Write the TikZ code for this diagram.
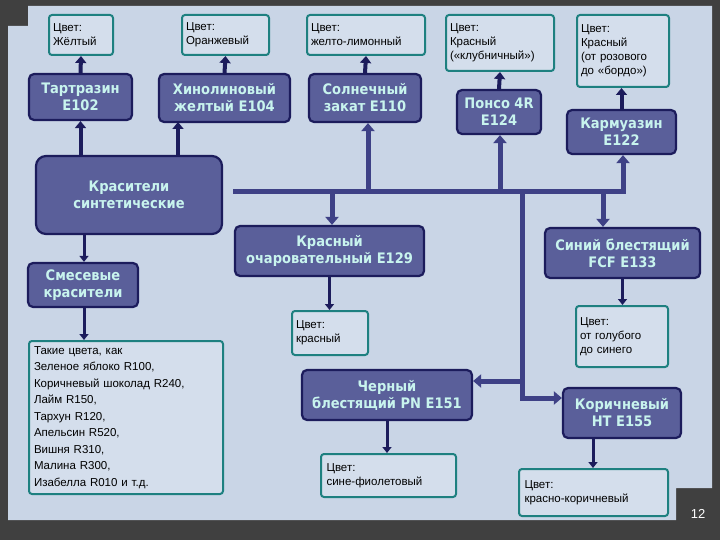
\documentclass[tikz,border=0pt]{standalone}
\usepackage{fontspec}
\setmainfont{Liberation Sans}
\newfontfamily\condf{DejaVu Sans Condensed}
\usetikzlibrary{arrows.meta}
\definecolor{frame}{HTML}{404040}
\definecolor{panel}{HTML}{C9D5E6}
\definecolor{dfill}{HTML}{5A5F9A}
\definecolor{dline}{HTML}{1C1C5C}
\definecolor{ltxt}{HTML}{C8F4EE}
\definecolor{teal}{HTML}{1E8080}
\definecolor{cfill}{HTML}{D4DEEC}
\definecolor{barc}{HTML}{3E4186}
\begin{document}
\begin{tikzpicture}[x=1pt,y=-1pt,
  dark/.style={draw=dline,line width=2.2pt,fill=dfill,rounded corners=5pt,text=ltxt,font=\condf\bfseries\fontsize{14.5}{17}\selectfont,align=center,inner sep=1pt},
  col/.style={draw=teal,line width=2pt,fill=cfill,rounded corners=3pt,anchor=north west,align=left,font=\fontsize{11.5}{14}\selectfont,inner sep=4pt},
  ar/.style={draw=dline,line width=4pt,-{Triangle[width=11pt,length=7pt]}},
  sar/.style={draw=dline,line width=3pt,-{Triangle[width=9pt,length=6pt]}},
  bus/.style={draw=barc,line width=5pt},
  busar/.style={draw=barc,line width=5pt,-{Triangle[width=13pt,length=8pt]}}]
\fill[frame] (0,0) rectangle (720,540);
\fill[panel] (28,6) -- (712,6) -- (712,488) -- (676,488) -- (676,520) -- (8,520) -- (8,26) -- (28,26) -- cycle;
\node[text=white,font=\fontsize{13}{15}\selectfont] (pg) at (698,514) {12};
% colour boxes
\node[col,minimum width=64pt,minimum height=40pt,text width=56pt] (c1) at (48,14) {Цвет:\\Жёлтый};
\node[col,minimum width=87pt,minimum height=40pt,text width=79pt] (c2) at (181,14) {Цвет:\\Оранжевый};
\node[col,minimum width=118pt,minimum height=40pt,text width=110pt] (c3) at (306,14) {Цвет:\\желто-лимонный};
\node[col,minimum width=108pt,minimum height=56pt,text width=100pt] (c4) at (445,14) {Цвет:\\Красный\\(«клубничный»)};
\node[col,minimum width=92pt,minimum height=72pt,text width=84pt] (c5) at (576,14) {Цвет:\\Красный\\(от розового\\до «бордо»)};
% dark boxes
\node[dark,minimum width=103pt,minimum height=46pt] (tar) at (80.5,97) {Тартразин\\E102};
\node[dark,minimum width=131pt,minimum height=48pt] (hin) at (224.5,98) {Хинолиновый\\желтый E104};
\node[dark,minimum width=112pt,minimum height=48pt] (sol) at (365,98) {Солнечный\\закат E110};
\node[dark,minimum width=84pt,minimum height=44pt] (pon) at (499,112) {Понсо 4R\\E124};
\node[dark,minimum width=109pt,minimum height=44pt] (kar) at (621.5,132) {Кармуазин\\E122};
\node[dark,rounded corners=10pt,minimum width=186pt,minimum height=78pt] (syn) at (129,195) {Красители\\синтетические};
\node[dark,minimum width=189pt,minimum height=50pt] (och) at (329.5,251) {Красный\\очаровательный E129};
\node[dark,minimum width=155pt,minimum height=50pt] (sin) at (622.5,253) {Синий блестящий\\FCF E133};
\node[dark,minimum width=110pt,minimum height=44pt] (sme) at (83,285) {Смесевые\\красители};
\node[dark,minimum width=170pt,minimum height=50pt] (che) at (387,395) {Черный\\блестящий PN E151};
\node[dark,minimum width=118pt,minimum height=50pt] (kor) at (622,413) {Коричневый\\HT E155};
% lower colour boxes
\node[col,minimum width=76pt,minimum height=44pt,text width=68pt] (ckr) at (291,310) {Цвет:\\красный};
\node[col,minimum width=92pt,minimum height=61pt,text width=84pt] (cgo) at (575,305) {Цвет:\\от голубого\\до синего};
\node[col,minimum width=135pt,minimum height=43pt,text width=124pt] (csf) at (320,453) {Цвет:\\сине-фиолетовый};
\node[col,minimum width=149pt,minimum height=47pt,text width=138pt] (ckk) at (518,468) {Цвет:\\красно-коричневый};
\node[col,minimum width=194pt,minimum height=153pt,text width=184pt,font=\fontsize{11.5}{16.5}\selectfont] (tak) at (28,340) {Такие цвета, как\\Зеленое яблоко R100,\\Коричневый шоколад R240,\\Лайм R150,\\Тархун R120,\\Апельсин R520,\\Вишня R310,\\Малина R300,\\Изабелла R010 и т.д.};
% small arrows
\draw[ar] (tar.north) -- (c1.south);
\draw[ar] (hin.north) -- (c2.south);
\draw[ar] (sol.north) -- (c3.south);
\draw[ar] (pon.north) -- (c4.south);
\draw[ar] (kar.north) -- (kar.north|-c5.south);
\draw[ar] (syn.north-|tar) -- (tar.south);
\draw[ar] (syn.north-|178,0) -- (178,122);
\draw[sar] (syn.south-|84,0) -- (sme.north-|84,0);
\draw[sar] (sme.south-|84,0) -- (tak.north-|84,0);
\draw[sar] (och.south) -- (och.south|-ckr.north);
\draw[sar] (sin.south) -- (sin.south|-cgo.north);
\draw[sar] (che.south) -- (che.south|-csf.north);
\draw[sar] (kor.south-|593,0) -- (593,468);
% bus
\coordinate (bl) at (233,192);
\coordinate (br) at (626,192);
\draw[bus,line cap=butt] (bl) -- (br);
\draw[busar] (368,192) -- (sol.south-|368,0);
\draw[busar] (500,192) -- (pon.south-|500,0);
\draw[busar] (623,192) -- (kar.south-|623,0);
\draw[busar] (332,192) -- (och.north-|332,0);
\draw[busar] (603,192) -- (sin.north-|603,0);
\draw[bus] (522,192) -- (522,398);
\draw[busar] (524,381) -- (che.east|-0,381);
\draw[busar] (520,398) -- (kor.west|-0,398);
\end{tikzpicture}
\end{document}
